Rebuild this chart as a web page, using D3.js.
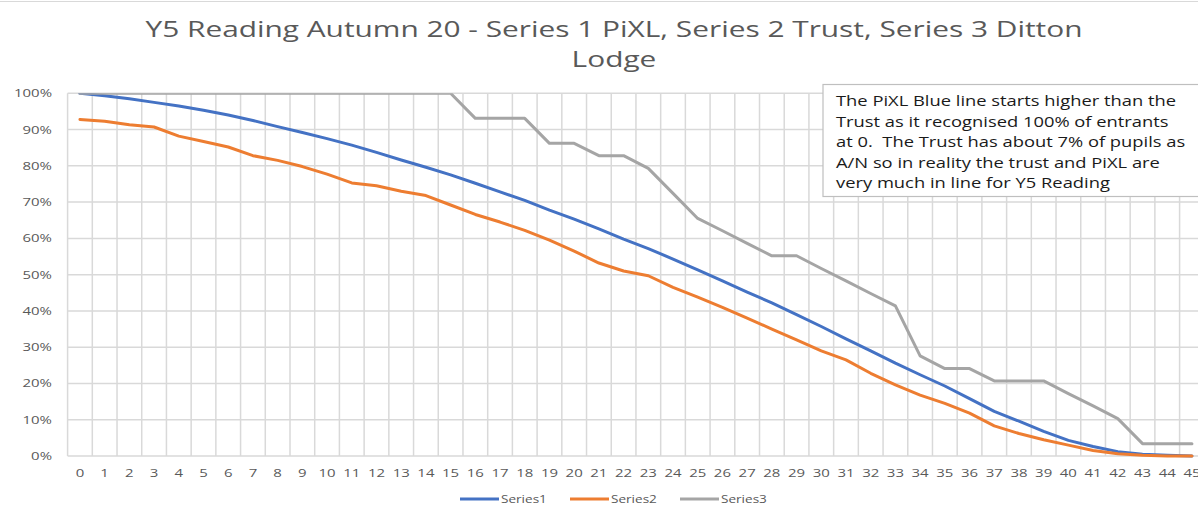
<!DOCTYPE html>
<html>
<head>
<meta charset="utf-8">
<script src="https://cdnjs.cloudflare.com/ajax/libs/d3/7.8.5/d3.min.js"></script>
<style>
    html, body { margin: 0; padding: 0; background: #fff; overflow: hidden; }
    text { font-family: "Open Sans", sans-serif; white-space: pre; }
</style>
</head>
<body>
<svg id="main-svg" width="1198" height="505"></svg>
<script>
// categories along the x axis (marks achieved)
let CATEGORIES = ['0', '1', '2', '3', '4', '5', '6', '7', '8', '9', '10', '11', '12', '13', '14', '15',
    '16', '17', '18', '19', '20', '21', '22', '23', '24', '25', '26', '27', '28', '29', '30', '31',
    '32', '33', '34', '35', '36', '37', '38', '39', '40', '41', '42', '43', '44', '45'];

// percent of pupils at or above each mark
let SERIES_1 = [100, 99.3, 98.5, 97.5, 96.5, 95.3, 94, 92.5, 90.8, 89.2, 87.5, 85.7, 83.7, 81.6, 79.6, 77.5,
    75.2, 72.8, 70.5, 67.8, 65.3, 62.6, 59.8, 57.2, 54.3, 51.3, 48.3, 45.2, 42.2, 39, 35.7, 32.3,
    29, 25.6, 22.4, 19.3, 15.8, 12.3, 9.6, 6.8, 4.3, 2.6, 1.2, 0.5, 0.2, 0];
let SERIES_2 = [92.8, 92.3, 91.3, 90.7, 88.2, 86.7, 85.2, 82.8, 81.5, 79.8, 77.7, 75.3, 74.5, 73, 71.8, 69.2,
    66.6, 64.5, 62.2, 59.5, 56.5, 53.2, 51, 49.7, 46.5, 43.8, 41, 38, 35, 32, 29, 26.5,
    22.8, 19.6, 16.8, 14.5, 11.8, 8.3, 6.2, 4.5, 3, 1.5, 0.6, 0.2, 0, 0];
let SERIES_3 = [100, 100, 100, 100, 100, 100, 100, 100, 100, 100, 100, 100, 100, 100, 100, 100,
    93.1, 93.1, 93.1, 86.2, 86.2, 82.8, 82.8, 79.3, 72.4, 65.5, 62.1, 58.6, 55.2, 55.2, 51.7, 48.3,
    44.8, 41.4, 27.6, 24.1, 24.1, 20.7, 20.7, 20.7, 17.2, 13.8, 10.3, 3.4, 3.4, 3.4];

let SERIES_NAMES = ['Series1', 'Series2', 'Series3'];
let Y_TICKS = [0, 10, 20, 30, 40, 50, 60, 70, 80, 90, 100];

let TITLE_LINES = ['Y5 Reading Autumn 20 - Series 1 PiXL, Series 2 Trust, Series 3 Ditton', 'Lodge'];
let NOTE_LINES = [
    'The PiXL Blue line starts higher than the',
    'Trust as it recognised 100% of entrants',
    'at 0.  The Trust has about 7% of pupils as',
    'A/N so in reality the trust and PiXL are',
    'very much in line for Y5 Reading'
];

let COLORS = ['#4472c4', '#ed7d31', '#a5a5a5'];
let GRID_COLOR = '#d9d9d9';
let TEXT_COLOR = '#595959';

// the picture is a little wider than the font, so widen text by a factor
function stretch(sel, k) {
    sel.each(function () {
        let len = this.getComputedTextLength();
        d3.select(this).attr('textLength', len * k).attr('lengthAdjust', 'spacingAndGlyphs');
    });
}

// factor that makes the first text of a selection exactly `width` wide
function fitFactor(sel, width) {
    return width / sel.node().getComputedTextLength();
}

let svg = d3.select('#main-svg');

let plot = { left: 67.6, right: 1204.3, top: 93.3, bottom: 456 };

let x = d3.scaleBand().domain(CATEGORIES).range([plot.left, plot.right]);
let y = d3.scaleLinear().domain([0, 100]).range([plot.bottom, plot.top]);

// outer chart border (only the top edge shows)
svg.append('line')
    .attr('x1', 0).attr('x2', 1198).attr('y1', 1.5).attr('y2', 1.5)
    .attr('stroke', GRID_COLOR).attr('stroke-width', 1);

// title
let title = svg.append('g').attr('fill', TEXT_COLOR).attr('font-size', 22.5).attr('text-anchor', 'middle');
let titleText = title.selectAll('text').data(TITLE_LINES).enter().append('text')
    .attr('x', 614)
    .attr('y', (d, i) => 37 + i * 30)
    .text(d => d);
titleText.call(stretch, fitFactor(titleText, 937));

// horizontal gridlines
svg.append('g').selectAll('line').data(Y_TICKS).enter().append('line')
    .attr('x1', plot.left).attr('x2', plot.right)
    .attr('y1', d => y(d)).attr('y2', d => y(d))
    .attr('stroke', GRID_COLOR).attr('stroke-width', 1.5);

// vertical gridlines between the categories
let bounds = CATEGORIES.map(c => x(c)).concat([plot.right]);
svg.append('g').selectAll('line').data(bounds).enter().append('line')
    .attr('x1', d => d).attr('x2', d => d)
    .attr('y1', plot.top).attr('y2', plot.bottom)
    .attr('stroke', GRID_COLOR).attr('stroke-width', 1.5);

// y tick labels
svg.append('g').selectAll('text').data(Y_TICKS).enter().append('text')
    .attr('x', 52)
    .attr('y', d => y(d) + 4)
    .attr('text-anchor', 'end')
    .attr('font-size', 11.5)
    .attr('fill', TEXT_COLOR)
    .text(d => d + '%')
    .call(stretch, 1.3);

// x tick labels
svg.append('g').selectAll('text').data(CATEGORIES).enter().append('text')
    .attr('x', d => x(d) + x.bandwidth() / 2)
    .attr('y', 477)
    .attr('text-anchor', 'middle')
    .attr('font-size', 11.5)
    .attr('fill', TEXT_COLOR)
    .text(d => d)
    .call(stretch, 1.3);

// series lines, clipped to the plot area like the original
svg.append('clipPath').attr('id', 'plot-clip')
    .append('rect')
    .attr('x', 0).attr('y', plot.top)
    .attr('width', 1198).attr('height', plot.bottom - plot.top + 10);

let line = d3.line()
    .x((d, i) => x(CATEGORIES[i]) + x.bandwidth() / 2)
    .y(d => y(d));

svg.append('g').attr('clip-path', 'url(#plot-clip)')
    .selectAll('path').data([SERIES_1, SERIES_2, SERIES_3]).enter().append('path')
    .attr('d', d => line(d))
    .attr('fill', 'none')
    .attr('stroke', (d, i) => COLORS[i])
    .attr('stroke-width', 3)
    .attr('stroke-linejoin', 'round')
    .attr('stroke-linecap', 'round');

// note box
svg.append('rect')
    .attr('x', 823).attr('y', 84.5)
    .attr('width', 400).attr('height', 112)
    .attr('fill', '#fff')
    .attr('stroke', '#bfbfbf')
    .attr('stroke-width', 1.2);

let note = svg.append('g').selectAll('text').data(NOTE_LINES).enter().append('text')
    .attr('x', 836)
    .attr('y', (d, i) => 106 + i * 20.5)
    .attr('font-size', 15)
    .attr('fill', '#1a1a1a')
    .text(d => d);
note.call(stretch, fitFactor(note, 340));

// legend
let legend = svg.append('g').selectAll('g').data(SERIES_NAMES).enter().append('g')
    .attr('transform', (d, i) => `translate(${460 + i * 110},499)`);
legend.append('line')
    .attr('x1', 0).attr('x2', 39)
    .attr('stroke', (d, i) => COLORS[i])
    .attr('stroke-width', 3);
legend.append('text')
    .attr('x', 41)
    .attr('y', 4)
    .attr('font-size', 11.5)
    .attr('fill', TEXT_COLOR)
    .text(d => d)
    .call(stretch, 1.18);
</script>
</body>
</html>
